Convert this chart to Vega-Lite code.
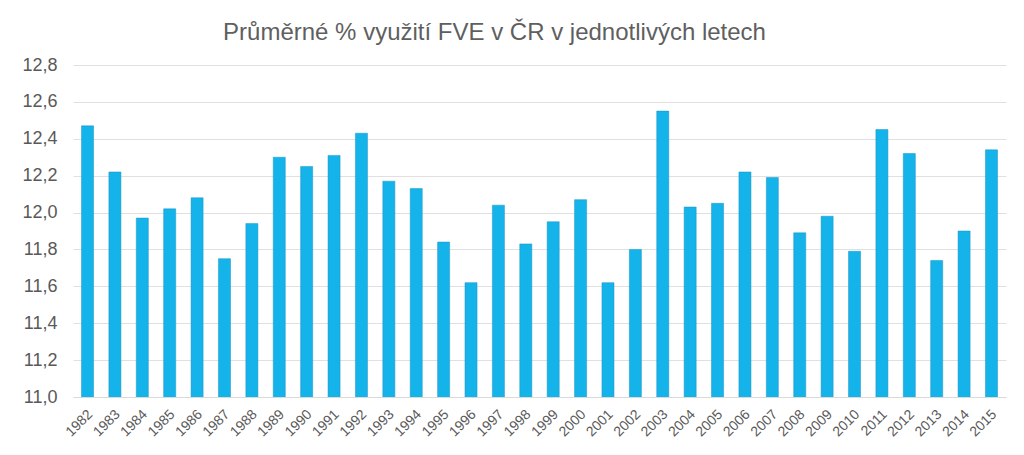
{
  "$schema": "https://vega.github.io/schema/vega-lite/v6.json",
  "width": 933,
  "height": 332,
  "autosize": {"type": "none"},
  "padding": {"left": 73, "top": 65, "right": 18, "bottom": 58},
  "background": "white",
  "title": {
    "text": "Průměrné % využití FVE v ČR v jednotlivých letech",
    "font": "Liberation Sans",
    "fontSize": 24,
    "fontWeight": "normal",
    "color": "#5f5f5f",
    "anchor": "middle",
    "dx": -45,
    "offset": 11
  },
  "data": {
    "values": [
      {"rok": "1982", "hodnota": 12.47},
      {"rok": "1983", "hodnota": 12.22},
      {"rok": "1984", "hodnota": 11.97},
      {"rok": "1985", "hodnota": 12.02},
      {"rok": "1986", "hodnota": 12.08},
      {"rok": "1987", "hodnota": 11.75},
      {"rok": "1988", "hodnota": 11.94},
      {"rok": "1989", "hodnota": 12.30},
      {"rok": "1990", "hodnota": 12.25},
      {"rok": "1991", "hodnota": 12.31},
      {"rok": "1992", "hodnota": 12.43},
      {"rok": "1993", "hodnota": 12.17},
      {"rok": "1994", "hodnota": 12.13},
      {"rok": "1995", "hodnota": 11.84},
      {"rok": "1996", "hodnota": 11.62},
      {"rok": "1997", "hodnota": 12.04},
      {"rok": "1998", "hodnota": 11.83},
      {"rok": "1999", "hodnota": 11.95},
      {"rok": "2000", "hodnota": 12.07},
      {"rok": "2001", "hodnota": 11.62},
      {"rok": "2002", "hodnota": 11.80},
      {"rok": "2003", "hodnota": 12.55},
      {"rok": "2004", "hodnota": 12.03},
      {"rok": "2005", "hodnota": 12.05},
      {"rok": "2006", "hodnota": 12.22},
      {"rok": "2007", "hodnota": 12.19},
      {"rok": "2008", "hodnota": 11.89},
      {"rok": "2009", "hodnota": 11.98},
      {"rok": "2010", "hodnota": 11.79},
      {"rok": "2011", "hodnota": 12.45},
      {"rok": "2012", "hodnota": 12.32},
      {"rok": "2013", "hodnota": 11.74},
      {"rok": "2014", "hodnota": 11.90},
      {"rok": "2015", "hodnota": 12.34}
    ]
  },
  "mark": {"type": "bar", "fill": "#14b4eb", "stroke": "#1b93c4", "strokeWidth": 0.5, "clip": true},
  "encoding": {
    "x": {
      "field": "rok",
      "type": "ordinal",
      "sort": null,
      "scale": {"paddingInner": 0.56, "paddingOuter": 0.31},
      "axis": {
        "title": null,
        "labelAngle": -45,
        "labelAlign": "right",
        "labelBaseline": "middle",
        "labelFont": "Liberation Sans",
        "labelFontSize": 14,
        "labelColor": "#595959",
        "labelPadding": 15,
        "labelOffset": 3,
        "ticks": false,
        "domainColor": "#d9d9d9",
        "domainWidth": 1
      }
    },
    "y": {
      "field": "hodnota",
      "type": "quantitative",
      "scale": {"domain": [11.0, 12.8], "zero": false, "nice": false},
      "axis": {
        "title": null,
        "values": [11.0, 11.2, 11.4, 11.6, 11.8, 12.0, 12.2, 12.4, 12.6, 12.8],
        "labelExpr": "replace(format(datum.value, '.1f'), '.', ',')",
        "labelFont": "Liberation Sans",
        "labelFontSize": 18,
        "labelColor": "#595959",
        "labelPadding": 16,
        "ticks": false,
        "domain": false,
        "gridColor": "#e0e0e0",
        "gridWidth": 1
      }
    }
  },
  "config": {"view": {"stroke": null}}
}
